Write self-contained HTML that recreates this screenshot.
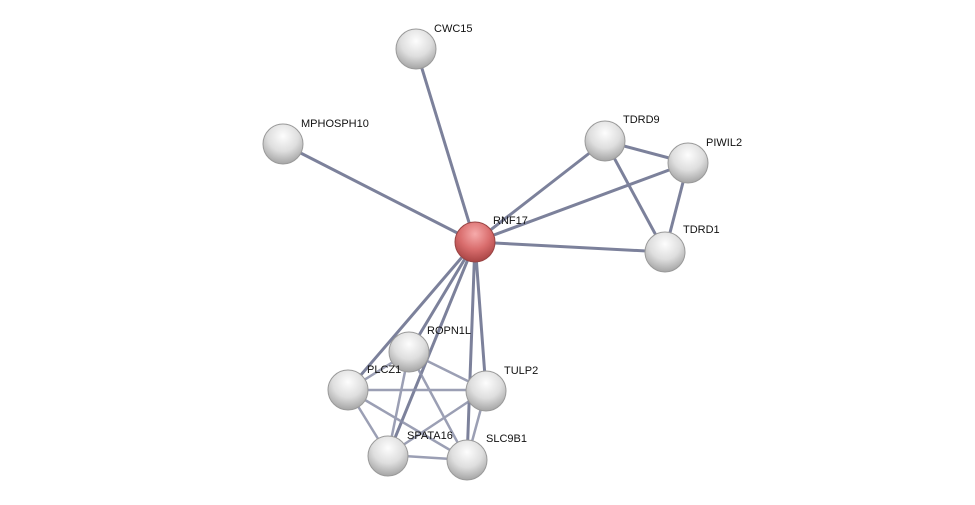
<!DOCTYPE html>
<html><head><meta charset="utf-8"><style>html,body{margin:0;padding:0;background:#fff;}svg{display:block}</style></head>
<body>
<svg width="975" height="505" viewBox="0 0 975 505" xmlns="http://www.w3.org/2000/svg">
<defs>
<radialGradient id="g" cx="0.5" cy="0.3" r="0.7">
<stop offset="0" stop-color="#fdfdfd"/><stop offset="0.55" stop-color="#dedede"/><stop offset="1" stop-color="#a5a5a5"/>
</radialGradient>
<radialGradient id="r" cx="0.5" cy="0.3" r="0.7">
<stop offset="0" stop-color="#f6abab"/><stop offset="0.55" stop-color="#d96d6d"/><stop offset="1" stop-color="#a84444"/>
</radialGradient>
</defs>
<g stroke="#767b96" stroke-width="3" stroke-linecap="round" opacity="0.95">
<line x1="475" y1="242" x2="416" y2="49"/>
<line x1="475" y1="242" x2="283" y2="144"/>
<line x1="475" y1="242" x2="605" y2="141"/>
<line x1="475" y1="242" x2="688" y2="163"/>
<line x1="475" y1="242" x2="665" y2="252"/>
<line x1="605" y1="141" x2="688" y2="163"/>
<line x1="605" y1="141" x2="665" y2="252"/>
<line x1="688" y1="163" x2="665" y2="252"/>
<line x1="475" y1="242" x2="348" y2="390"/>
<line x1="475" y1="242" x2="409" y2="352"/>
<line x1="475" y1="242" x2="486" y2="390"/>
<line x1="475" y1="242" x2="388" y2="455"/>
<line x1="475" y1="242" x2="467" y2="460"/>
</g>
<g stroke="#8a8fa8" stroke-width="2.5" opacity="0.85">
<line x1="348" y1="390" x2="409" y2="352"/>
<line x1="348" y1="390" x2="486" y2="390"/>
<line x1="348" y1="390" x2="388" y2="455"/>
<line x1="348" y1="390" x2="467" y2="460"/>
<line x1="409" y1="352" x2="486" y2="390"/>
<line x1="409" y1="352" x2="388" y2="455"/>
<line x1="409" y1="352" x2="467" y2="460"/>
<line x1="486" y1="390" x2="388" y2="455"/>
<line x1="486" y1="390" x2="467" y2="460"/>
<line x1="388" y1="455" x2="467" y2="460"/>
</g>
<g stroke="#9a9a9a" stroke-width="1">
<circle cx="416" cy="49" r="20" fill="url(#g)"/>
<circle cx="283" cy="144" r="20" fill="url(#g)"/>
<circle cx="605" cy="141" r="20" fill="url(#g)"/>
<circle cx="688" cy="163" r="20" fill="url(#g)"/>
<circle cx="665" cy="252" r="20" fill="url(#g)"/>
<circle cx="475" cy="242" r="20" fill="url(#r)" stroke="#994444"/>
<circle cx="348" cy="390" r="20" fill="url(#g)"/>
<circle cx="409" cy="352" r="20" fill="url(#g)"/>
<circle cx="486" cy="391" r="20" fill="url(#g)"/>
<circle cx="388" cy="456" r="20" fill="url(#g)"/>
<circle cx="467" cy="460" r="20" fill="url(#g)"/>
</g>
<g font-family="Liberation Sans, sans-serif" font-size="11" fill="#111">
<text x="434" y="32">CWC15</text>
<text x="301" y="127">MPHOSPH10</text>
<text x="623" y="123">TDRD9</text>
<text x="706" y="146">PIWIL2</text>
<text x="683" y="233">TDRD1</text>
<text x="493" y="224">RNF17</text>
<text x="427" y="334">ROPN1L</text>
<text x="367" y="373">PLCZ1</text>
<text x="504" y="374">TULP2</text>
<text x="407" y="439">SPATA16</text>
<text x="486" y="442">SLC9B1</text>
</g>
</svg>
</body></html>
